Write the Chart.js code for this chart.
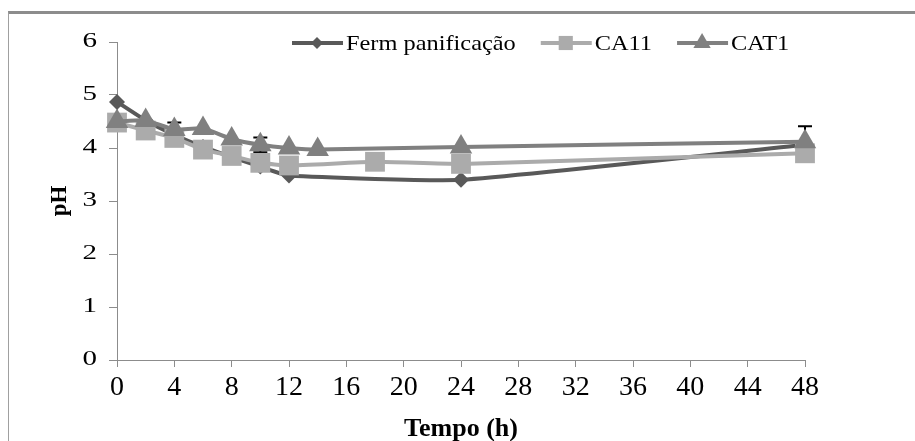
<!DOCTYPE html>
<html>
<head>
    <title>pH - fermentação</title>
    <script src="https://cdn.jsdelivr.net/npm/chart.js"></script>
    <style>
        body { margin: 0; background: #fff; }
        .frame {
            position: absolute; left: 8px; top: 11px;
            width: 907px; height: 430px;
            border-top: 3px solid #8c8c8c;
            border-left: 1px solid #a0a0a0;
        }
        canvas { display: block; }
    </style>
</head>
<body>
    <div class="frame">
        <canvas id="phChart" width="906" height="427"></canvas>
    </div>

    <script>
        // Tempo (h) e pH de cada fermento
        const fermTime = [0, 2, 4, 6, 8, 10, 12, 24, 48];
        const fermPH   = [4.87, 4.52, 4.25, 4.02, 3.83, 3.65, 3.48, 3.40, 4.06];

        const ca11Time = [0, 2, 4, 6, 8, 10, 12, 18, 24, 48];
        const ca11PH   = [4.48, 4.33, 4.19, 3.97, 3.85, 3.72, 3.67, 3.74, 3.70, 3.90];

        const cat1Time = [0, 2, 4, 6, 8, 10, 12, 14, 24, 48];
        const cat1PH   = [4.50, 4.52, 4.35, 4.37, 4.17, 4.06, 4.00, 3.97, 4.02, 4.12];
        const cat1Err  = [0, 0, 0.13, 0, 0, 0.14, 0, 0, 0, 0.29];

        const seriesNames = ['Ferm panificação', 'CA11', 'CAT1'];
        const xTicks = [0, 48, 4];   // min, max, step
        const yTicks = [0, 6, 1];

        const serif = 'Liberation Serif, Times New Roman, serif';
        const yTickSize = 20;
        const yTickStretch = 1.45;   // pH numbers are set wide
        const legendStretch = 1.16;

        function toPoints(xs, ys) {
            return xs.map((x, i) => ({ x: x, y: ys[i] }));
        }

        // draw a string widened around its anchor point
        function wideFill(ctx, fill, text, x, y, s) {
            ctx.save();
            ctx.translate(x, y);
            ctx.scale(s, 1);
            fill(text, 0, 0);
            ctx.restore();
        }

        // the y tick labels come out of Chart.js; widen only those
        const wideText = {
            id: 'wideText',
            beforeDraw(chart) {
                const ctx = chart.ctx;
                if (ctx._plainFill) return;
                const fill = ctx.fillText.bind(ctx);
                ctx._plainFill = fill;
                ctx.fillText = function (text, x, y, maxWidth) {
                    const size = parseFloat((ctx.font.match(/([\d.]+)px/) || [0, 0])[1]);
                    if (size === yTickSize && ctx.font.indexOf('bold') < 0) {
                        wideFill(ctx, fill, text, x, y, yTickStretch);
                    } else {
                        fill(text, x, y);
                    }
                };
            }
        };

        // error bars sit under the markers, only the caps peek out
        const errorBars = {
            id: 'errorBars',
            beforeDatasetsDraw(chart) {
                const ctx = chart.ctx;
                const meta = chart.getDatasetMeta(2);
                const ys = chart.scales.y;
                ctx.save();
                ctx.strokeStyle = '#000';
                ctx.lineWidth = 2;
                meta.data.forEach((pt, i) => {
                    const e = cat1Err[i];
                    if (!e) return;
                    const top = ys.getPixelForValue(cat1PH[i] + e);
                    const bot = ys.getPixelForValue(cat1PH[i] - e);
                    ctx.beginPath();
                    ctx.moveTo(pt.x, top); ctx.lineTo(pt.x, bot);
                    ctx.moveTo(pt.x - 7, top); ctx.lineTo(pt.x + 7, top);
                    ctx.moveTo(pt.x - 7, bot); ctx.lineTo(pt.x + 7, bot);
                    ctx.stroke();
                });
                ctx.restore();
            }
        };

        // legend inside the plot: line sample with marker, then the name
        const inlineLegend = {
            id: 'inlineLegend',
            afterDraw(chart) {
                const ctx = chart.ctx;
                const fill = ctx._plainFill || ctx.fillText.bind(ctx);
                const area = chart.chartArea;
                let x = area.left + 175;
                const y = area.top + 1;
                ctx.save();
                ctx.font = '21px ' + serif;
                ctx.textBaseline = 'middle';
                ctx.textAlign = 'left';
                chart.data.datasets.forEach((ds) => {
                    ctx.strokeStyle = ds.borderColor;
                    ctx.lineWidth = ds.borderWidth;
                    ctx.beginPath();
                    ctx.moveTo(x, y); ctx.lineTo(x + 51, y);
                    ctx.stroke();
                    ctx.fillStyle = ds.pointBackgroundColor;
                    ctx.strokeStyle = ds.pointBackgroundColor;
                    Chart.helpers.drawPoint(ctx, {
                        pointStyle: ds.pointStyle,
                        radius: ds.legendRadius,
                        rotation: 0,
                        borderWidth: 0
                    }, x + 25, y);
                    ctx.fillStyle = '#000';
                    wideFill(ctx, fill, ds.label, x + 54, y + 1, legendStretch);
                    x += 54 + ctx.measureText(ds.label).width * legendStretch + 25;
                });
                ctx.restore();
            }
        };

        function series(label, xs, ys, color, style, radius, legendRadius, order) {
            return {
                label: label,
                data: toPoints(xs, ys),
                borderColor: color,
                backgroundColor: color,
                pointBackgroundColor: color,
                pointBorderColor: color,
                pointBorderWidth: 0,
                borderWidth: 4,
                pointStyle: style,
                pointRadius: radius,
                legendRadius: legendRadius,
                tension: 0.15,
                showLine: true,
                clip: false,
                order: order
            };
        }

        new Chart(document.getElementById('phChart'), {
            type: 'scatter',
            data: {
                datasets: [
                    series(seriesNames[0], fermTime, fermPH, '#595959', 'rectRot', 8, 6, 2),
                    series(seriesNames[1], ca11Time, ca11PH, '#ababab', 'rect', 14, 10, 1),
                    series(seriesNames[2], cat1Time, cat1PH, '#808080', 'triangle', 13, 10, 0)
                ]
            },
            options: {
                responsive: false,
                animation: false,
                layout: { padding: { top: 28, right: 110, bottom: 0, left: 0 } },
                plugins: {
                    legend: { display: false },
                    tooltip: { enabled: false }
                },
                scales: {
                    x: {
                        type: 'linear',
                        min: xTicks[0], max: xTicks[1],
                        afterFit(scale) { scale.height = 81; },
                        ticks: {
                            stepSize: xTicks[2],
                            padding: 4,
                            maxRotation: 0,
                            color: '#000',
                            font: { family: serif, size: 28 }
                        },
                        grid: {
                            drawOnChartArea: false,
                            tickLength: 7,
                            color: '#8c8c8c'
                        },
                        border: { color: '#8c8c8c', width: 1 },
                        title: {
                            display: true,
                            text: 'Tempo (h)',
                            color: '#000',
                            padding: { top: 0, bottom: -4 },
                            font: { family: serif, size: 26, weight: 'bold' }
                        }
                    },
                    y: {
                        min: yTicks[0], max: yTicks[1],
                        afterFit(scale) { scale.width = 108; },
                        ticks: {
                            stepSize: yTicks[2],
                            padding: 12,
                            color: '#000',
                            font: { family: serif, size: yTickSize }
                        },
                        grid: {
                            drawOnChartArea: false,
                            tickLength: 8,
                            color: '#8c8c8c'
                        },
                        border: { color: '#8c8c8c', width: 1 },
                        title: {
                            display: true,
                            text: 'pH',
                            color: '#000',
                            padding: { top: 37, bottom: 0 },
                            font: { family: serif, size: 23, weight: 'bold' }
                        }
                    }
                }
            },
            plugins: [wideText, errorBars, inlineLegend]
        });
    </script>
</body>
</html>
